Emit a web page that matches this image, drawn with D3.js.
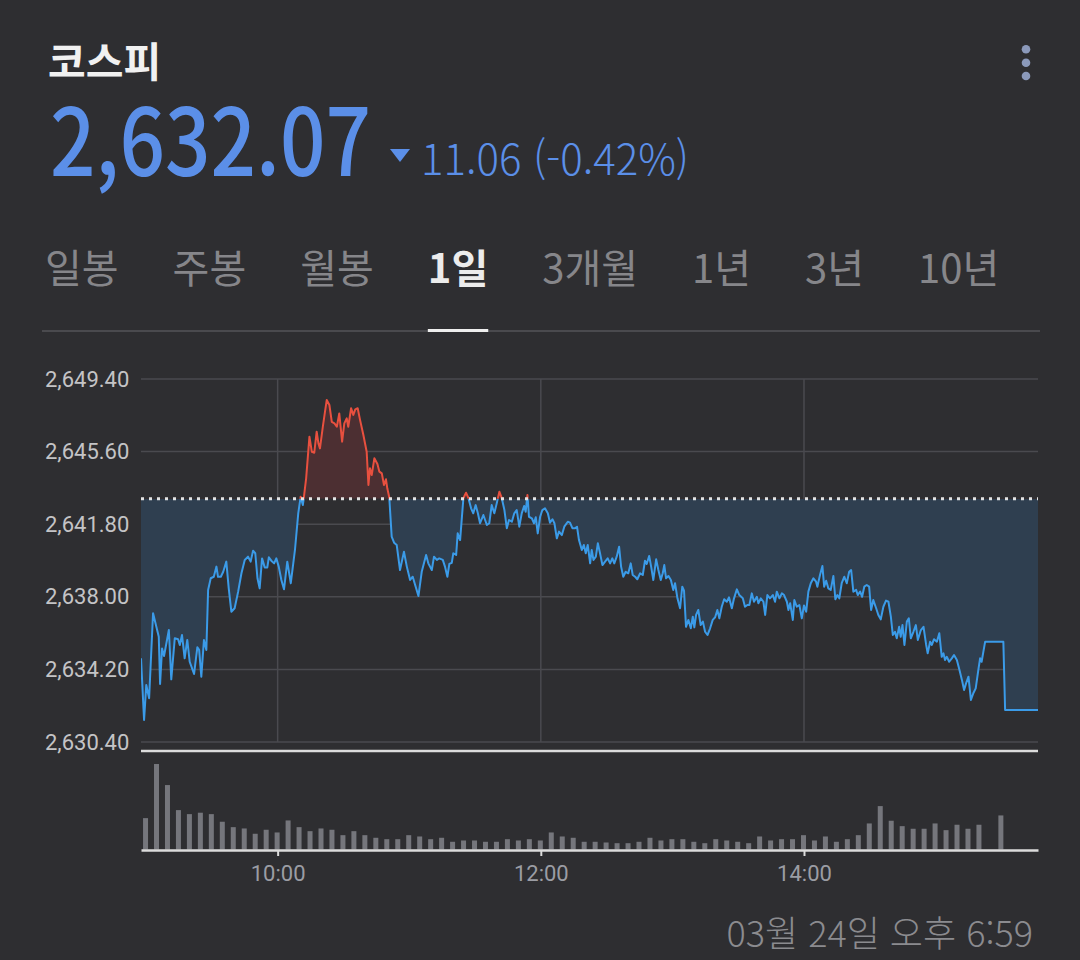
<!DOCTYPE html>
<html lang="ko">
<head>
<meta charset="utf-8">
<title>코스피</title>
<script src="https://cdn.jsdelivr.net/npm/d3@7"></script>
<style>
  html, body { margin: 0; padding: 0; background: #2e2e31; }
  svg { display: block; }
  text { font-family: "Noto Sans CJK KR", "Noto Sans", sans-serif; }
  .axis text { font-family: Roboto, "Noto Sans", sans-serif; }
</style>
</head>
<body>
<svg id="chart" width="1080" height="960"></svg>
<script>
'use strict';

// ##################################################
// #  Data                                          #
// ##################################################

const indexName = '코스피';
const lastValue = 2632.07;
const changeValue = -11.06;
const changePct = -0.42;
const prevClose = 2643.13;
const tabs = ['일봉', '주봉', '월봉', '1일', '3개월', '1년', '3년', '10년'];
const activeTab = '1일';
const updatedAt = '03월 24일 오후 6:59';

const yTicks = [2630.40, 2634.20, 2638.00, 2641.80, 2645.60, 2649.40];
const xTicks = [60, 180, 300];            // minutes after 09:00
const xTickLabels = ['10:00', '12:00', '14:00'];

// [minutes after 09:00, index value]
const intraday = [
    [-2.3, 2634.78], [-0.9, 2631.55], [0.1, 2633.38], [1.4, 2632.69], [3.2, 2637.14],
    [5.8, 2635.91], [6.4, 2633.44], [7.3, 2635.30], [8.2, 2634.90], [10.4, 2636.26],
    [11.5, 2633.68], [13.1, 2635.83], [14.6, 2635.78], [15.4, 2635.48], [16.4, 2636.00],
    [17.6, 2634.78], [18.8, 2635.74], [19.9, 2634.60], [21.9, 2633.96], [23.4, 2635.36],
    [24.2, 2635.22], [25.2, 2633.82], [26.4, 2635.74], [27.5, 2635.22], [28.3, 2638.36],
    [29.5, 2638.97], [30.9, 2639.05], [32.1, 2639.58], [32.8, 2639.05], [34.1, 2639.05],
    [35.2, 2639.31], [36.6, 2639.84], [37.7, 2638.44], [38.9, 2637.22], [40.4, 2637.40],
    [42.0, 2638.27], [43.5, 2639.23], [45.0, 2639.93], [46.5, 2640.10], [47.7, 2639.84],
    [48.8, 2640.41], [49.8, 2640.28], [50.8, 2638.97], [51.8, 2638.44], [52.9, 2640.01],
    [54.1, 2639.54], [55.3, 2639.54], [56.0, 2640.07], [57.1, 2639.89], [58.4, 2639.75],
    [59.4, 2640.01], [60.5, 2639.58], [61.7, 2638.88], [62.9, 2638.39], [64.4, 2639.84],
    [66.0, 2638.71], [67.9, 2640.45], [69.4, 2642.37], [70.5, 2643.24], [71.5, 2642.80],
    [72.0, 2643.24], [73.0, 2644.20], [74.5, 2646.38], [75.6, 2645.59], [76.7, 2645.54],
    [77.8, 2646.64], [78.6, 2646.03], [79.3, 2645.77], [80.6, 2646.90], [81.6, 2647.69],
    [82.4, 2648.30], [83.6, 2648.04], [84.7, 2647.16], [85.9, 2647.08], [87.0, 2646.90],
    [88.1, 2647.60], [89.4, 2646.12], [90.4, 2647.08], [91.5, 2647.34], [92.2, 2646.90],
    [93.5, 2647.87], [94.5, 2647.52], [95.4, 2647.81], [96.5, 2647.87], [97.6, 2647.25],
    [99.1, 2646.47], [100.6, 2645.59], [101.4, 2643.85], [102.1, 2644.73], [102.9, 2644.37],
    [104.1, 2645.25], [105.5, 2644.95], [106.4, 2644.55], [107.5, 2644.46], [108.5, 2643.85],
    [109.4, 2644.15], [110.0, 2643.68], [110.9, 2643.21], [112.0, 2641.15], [113.1, 2640.83],
    [114.3, 2640.71], [115.8, 2639.40], [117.6, 2640.36], [118.9, 2639.58], [120.4, 2638.88],
    [121.6, 2639.05], [122.7, 2638.62], [124.2, 2638.04], [125.7, 2639.31], [127.7, 2640.19],
    [128.7, 2639.75], [130.3, 2639.40], [131.3, 2640.10], [132.6, 2639.93], [133.7, 2640.01],
    [135.3, 2639.93], [136.3, 2639.58], [137.4, 2639.05], [138.3, 2639.72], [139.4, 2639.78],
    [140.1, 2640.28], [141.4, 2640.19], [142.1, 2641.32], [143.2, 2640.97], [144.7, 2643.16],
    [145.9, 2643.45], [147.0, 2643.16], [148.2, 2642.63], [149.2, 2642.37], [150.3, 2642.80],
    [151.3, 2642.37], [152.3, 2641.85], [153.8, 2642.28], [155.4, 2641.76], [156.5, 2641.85],
    [157.6, 2642.80], [158.8, 2642.37], [159.9, 2642.89], [161.1, 2643.50], [162.2, 2643.16],
    [163.4, 2642.54], [164.5, 2641.59], [165.5, 2642.02], [166.8, 2641.93], [167.9, 2642.37],
    [169.0, 2642.54], [170.2, 2641.67], [171.3, 2642.37], [172.4, 2642.75], [173.1, 2642.45],
    [173.9, 2643.33], [174.6, 2642.19], [175.9, 2642.11], [176.9, 2641.85], [177.7, 2642.16],
    [178.6, 2641.32], [179.7, 2642.19], [180.7, 2642.54], [181.9, 2642.63], [183.2, 2642.37],
    [184.2, 2641.88], [185.3, 2642.06], [186.2, 2641.85], [187.3, 2641.06], [188.3, 2641.41],
    [189.6, 2641.23], [190.7, 2641.67], [192.3, 2641.93], [193.3, 2641.88], [194.4, 2641.59],
    [195.6, 2641.59], [196.5, 2641.67], [197.4, 2640.97], [198.7, 2640.45], [199.6, 2640.71],
    [200.5, 2640.28], [201.4, 2640.71], [202.5, 2639.75], [203.2, 2640.45], [204.0, 2639.93],
    [205.1, 2640.10], [206.0, 2640.80], [207.0, 2640.28], [208.1, 2639.66], [209.3, 2639.84],
    [210.5, 2640.01], [211.6, 2639.75], [212.6, 2640.01], [213.5, 2639.75], [214.6, 2640.10],
    [215.7, 2640.62], [216.6, 2639.58], [217.6, 2639.05], [218.7, 2639.31], [219.9, 2639.23],
    [221.0, 2639.75], [221.9, 2639.14], [223.0, 2639.05], [224.0, 2638.92], [225.3, 2639.23],
    [226.5, 2639.14], [227.5, 2639.89], [228.3, 2639.72], [229.4, 2640.14], [230.3, 2639.58],
    [231.3, 2638.88], [232.6, 2639.96], [233.6, 2639.40], [234.7, 2638.88], [235.6, 2639.23],
    [236.3, 2639.66], [237.1, 2638.97], [238.2, 2639.09], [239.3, 2638.88], [240.4, 2638.36],
    [241.2, 2638.71], [242.3, 2637.92], [243.5, 2637.40], [244.5, 2638.53], [245.3, 2638.32],
    [246.2, 2636.43], [247.3, 2636.79], [248.4, 2636.35], [249.3, 2636.96], [250.0, 2636.40],
    [250.8, 2637.05], [251.8, 2637.31], [252.9, 2636.52], [253.9, 2636.70], [254.9, 2636.17],
    [256.0, 2636.00], [257.2, 2636.35], [258.4, 2636.79], [259.5, 2636.93], [260.5, 2637.31],
    [261.4, 2636.87], [262.5, 2637.48], [263.6, 2637.87], [264.8, 2637.74], [265.8, 2637.97],
    [267.1, 2637.40], [268.1, 2637.92], [269.4, 2638.39], [270.5, 2638.09], [272.1, 2637.92],
    [273.1, 2637.48], [274.2, 2637.57], [275.1, 2637.57], [276.2, 2638.18], [277.2, 2637.74],
    [278.5, 2638.00], [279.2, 2637.66], [280.3, 2637.92], [281.5, 2637.74], [282.3, 2637.05],
    [283.3, 2638.09], [284.5, 2637.92], [285.8, 2638.09], [286.8, 2637.74], [287.6, 2638.27],
    [288.8, 2637.92], [289.9, 2638.18], [290.9, 2638.09], [292.2, 2637.74], [292.9, 2637.31],
    [293.7, 2637.66], [294.9, 2636.79], [295.6, 2637.83], [296.7, 2637.48], [297.9, 2637.57],
    [299.0, 2636.87], [300.0, 2637.55], [301.0, 2637.22], [302.0, 2638.27], [303.1, 2638.71],
    [304.3, 2638.97], [305.5, 2638.79], [306.1, 2638.53], [307.3, 2639.14], [308.4, 2639.61],
    [309.2, 2638.53], [310.1, 2638.84], [311.1, 2638.44], [312.2, 2638.36], [313.4, 2639.09],
    [314.3, 2637.87], [315.2, 2638.09], [316.1, 2637.92], [317.2, 2638.71], [318.4, 2639.05],
    [319.5, 2638.71], [320.6, 2639.31], [321.5, 2639.40], [322.5, 2638.27], [323.8, 2638.36],
    [324.5, 2638.09], [325.6, 2638.27], [326.5, 2638.00], [327.5, 2638.53], [328.6, 2638.62],
    [329.7, 2638.53], [330.6, 2637.31], [331.6, 2637.83], [332.9, 2637.40], [333.9, 2637.05],
    [335.0, 2636.82], [336.2, 2637.48], [337.4, 2637.80], [338.5, 2637.74], [339.6, 2636.96],
    [340.5, 2636.00], [341.5, 2636.17], [342.3, 2635.83], [343.4, 2636.43], [344.1, 2635.91],
    [344.9, 2636.52], [345.8, 2635.48], [346.9, 2636.70], [347.8, 2636.87], [348.7, 2635.83],
    [349.9, 2636.17], [351.0, 2636.52], [351.9, 2635.74], [353.3, 2636.26], [354.5, 2636.43],
    [355.7, 2635.48], [356.4, 2635.04], [357.5, 2635.65], [358.3, 2635.48], [359.3, 2635.78],
    [360.6, 2635.65], [361.7, 2636.09], [362.8, 2634.86], [363.6, 2635.04], [364.3, 2634.69],
    [365.1, 2634.86], [366.2, 2634.60], [367.4, 2634.78], [368.4, 2634.95], [369.7, 2634.69],
    [370.9, 2634.17], [372.0, 2633.65], [373.0, 2633.12], [373.9, 2633.47], [375.0, 2633.82],
    [376.1, 2632.60], [377.2, 2632.95], [378.3, 2633.21], [379.5, 2634.17], [380.3, 2634.78],
    [381.0, 2634.60], [381.8, 2635.13], [382.6, 2635.65], [390.9, 2635.65], [391.7, 2632.07],
    [406.7, 2632.07]
];

// 5-minute volume buckets (relative units)
const volumeTimes = [
    '09:00', '09:05', '09:10', '09:15', '09:20', '09:25', '09:30', '09:35', '09:40', '09:45', '09:50', '09:55',
    '10:00', '10:05', '10:10', '10:15', '10:20', '10:25', '10:30', '10:35', '10:40', '10:45', '10:50', '10:55',
    '11:00', '11:05', '11:10', '11:15', '11:20', '11:25', '11:30', '11:35', '11:40', '11:45', '11:50', '11:55',
    '12:00', '12:05', '12:10', '12:15', '12:20', '12:25', '12:30', '12:35', '12:40', '12:45', '12:50', '12:55',
    '13:00', '13:05', '13:10', '13:15', '13:20', '13:25', '13:30', '13:35', '13:40', '13:45', '13:50', '13:55',
    '14:00', '14:05', '14:10', '14:15', '14:20', '14:25', '14:30', '14:35', '14:40', '14:45', '14:50', '14:55',
    '15:00', '15:05', '15:10', '15:15', '15:20', '15:30'
];
const volumeValues = [
    31.3, 85.3, 64.3, 39.3, 35.3, 36.7, 35.3, 27.7, 22.3, 21.0, 15.7, 19.7,
    17.0, 29.0, 22.3, 18.3, 21.0, 19.7, 14.3, 18.3, 14.3, 11.7, 10.3, 10.3,
    14.3, 13.0, 10.3, 11.7, 7.7, 9.0, 9.0, 7.7, 7.7, 10.3, 9.0, 10.3,
    9.0, 17.0, 13.0, 11.7, 7.7, 7.7, 7.0, 6.3, 6.3, 7.7, 11.7, 9.0,
    10.3, 10.3, 7.7, 6.3, 10.3, 9.0, 7.7, 6.3, 13.0, 9.0, 10.3, 10.3,
    14.3, 9.0, 13.0, 7.7, 10.3, 14.3, 26.0, 43.3, 28.7, 23.3, 20.7, 20.7,
    26.0, 19.3, 24.7, 20.7, 24.7, 34.0
];

// ##################################################
// #  Layout                                        #
// ##################################################

const svg = d3.select('#chart');
const plot = { left: 141, right: 1038, top: 379, bottom: 742 };
const vol = { top: 751, bottom: 850 };

const x = d3.scaleLinear([-2.3, 406.7], [plot.left, plot.right]);
const y = d3.scaleLinear([2630.4, 2649.4], [plot.bottom, plot.top]);
const yVol = d3.scaleLinear([0, 90], [849.5, 759.3]);

const toMinutes = s => (+s.slice(0, 2) - 9) * 60 + (+s.slice(3));

// ---------- header ----------
svg.append('text')
    .attr('x', 48).attr('y', 77)
    .attr('font-size', 41).attr('font-weight', 700)
    .attr('fill', '#f1f1f1')
    .text(indexName);

svg.append('text')
    .attr('x', 50).attr('y', 176)
    .attr('font-size', 94).attr('font-weight', 500)
    .attr('fill', '#5b8fe8')
    .attr('textLength', 321).attr('lengthAdjust', 'spacingAndGlyphs')
    .text(d3.format(',.2f')(lastValue));

svg.append('path')
    .attr('d', d3.line()([[390, 149], [410, 149], [400, 162]]) + 'Z')
    .attr('fill', '#5b8fe8');

svg.append('text')
    .attr('x', 421).attr('y', 175)
    .attr('font-size', 43).attr('font-weight', 300)
    .attr('fill', '#5b8fe8')
    .attr('textLength', 268).attr('lengthAdjust', 'spacingAndGlyphs')
    .text(`${Math.abs(changeValue).toFixed(2)} (${changePct.toFixed(2)}%)`);

svg.append('g')
    .selectAll('circle')
    .data([49.3, 62.7, 76])
    .join('circle')
    .attr('cx', 1026).attr('cy', d => d).attr('r', 4.3)
    .attr('fill', '#8b99ba');

// ---------- tabs ----------
svg.append('line')
    .attr('x1', 42).attr('x2', 1040).attr('y1', 331).attr('y2', 331)
    .attr('stroke', '#4a4a4e').attr('stroke-width', 2);

let tabX = 45;
const tabGap = 54;
for (const tab of tabs) {
    const active = tab === activeTab;
    const t = svg.append('text')
        .attr('x', tabX).attr('y', 283)
        .attr('font-size', 40)
        .attr('font-weight', active ? 700 : 400)
        .attr('fill', active ? '#ececec' : '#86868a')
        .text(tab);
    const w = t.node().getComputedTextLength();
    if (active) {
        svg.append('rect')
            .attr('x', tabX).attr('y', 329).attr('width', w).attr('height', 3)
            .attr('fill', '#eeeeee');
    }
    tabX += w + tabGap;
}

// ---------- grid ----------
const grid = svg.append('g');
grid.selectAll('.hgrid')
    .data(yTicks)
    .join('line')
    .attr('class', 'hgrid')
    .attr('x1', plot.left).attr('x2', plot.right)
    .attr('y1', d => y(d)).attr('y2', d => y(d))
    .attr('stroke', '#4a4a4f').attr('stroke-width', 1.5);

grid.selectAll('.vgrid')
    .data(xTicks)
    .join('line')
    .attr('class', 'vgrid')
    .attr('x1', d => x(d)).attr('x2', d => x(d))
    .attr('y1', plot.top).attr('y2', plot.bottom)
    .attr('stroke', '#4a4a4f').attr('stroke-width', 1.5);

const yAxis = svg.append('g')
    .attr('class', 'axis')
    .attr('transform', 'translate(45,0)')
    .call(d3.axisRight(y).tickValues(yTicks).tickSize(0).tickPadding(0).tickFormat(d3.format(',.2f')));
yAxis.select('.domain').remove();
yAxis.selectAll('text')
    .attr('font-size', 22)
    .attr('fill', '#c4c4c6');

// ---------- price area + line ----------
const defs = svg.append('defs');
defs.append('clipPath').attr('id', 'above')
    .append('rect')
    .attr('x', plot.left).attr('y', 0)
    .attr('width', plot.right - plot.left).attr('height', y(prevClose));
defs.append('clipPath').attr('id', 'below')
    .append('rect')
    .attr('x', plot.left).attr('y', y(prevClose))
    .attr('width', plot.right - plot.left).attr('height', plot.bottom - y(prevClose));

const area = d3.area()
    .x(d => x(d[0]))
    .y0(y(prevClose))
    .y1(d => y(d[1]));
const line = d3.line()
    .x(d => x(d[0]))
    .y(d => y(d[1]));

const sides = [
    { clip: 'below', fill: '#2f3f50', stroke: '#3b9be8' },
    { clip: 'above', fill: '#4c2f32', stroke: '#e8503f' }
];
for (const s of sides) {
    const g = svg.append('g').attr('clip-path', `url(#${s.clip})`);
    g.append('path')
        .datum(intraday)
        .attr('d', area)
        .attr('fill', s.fill);
    g.append('path')
        .datum(intraday)
        .attr('d', line)
        .attr('fill', 'none')
        .attr('stroke', s.stroke)
        .attr('stroke-width', 2)
        .attr('stroke-linejoin', 'round');
}

svg.append('line')
    .attr('x1', plot.left).attr('x2', plot.right)
    .attr('y1', y(prevClose)).attr('y2', y(prevClose))
    .attr('stroke', '#e4e4e4').attr('stroke-width', 3)
    .attr('stroke-dasharray', '3 5');

// ---------- volume ----------
svg.append('line')
    .attr('x1', plot.left).attr('x2', plot.right)
    .attr('y1', vol.top).attr('y2', vol.top)
    .attr('stroke', '#dcdcdc').attr('stroke-width', 2.5);

const volume = volumeTimes.map((t, i) => ({ t: toMinutes(t), v: volumeValues[i] }));
svg.append('g')
    .selectAll('rect')
    .data(volume)
    .join('rect')
    .attr('x', d => x(d.t) - 3)
    .attr('width', 5)
    .attr('y', d => yVol(d.v))
    .attr('height', d => yVol(0) - yVol(d.v))
    .attr('fill', '#75767c');

const xAxis = svg.append('g')
    .attr('class', 'axis')
    .attr('transform', `translate(0,${vol.bottom})`)
    .call(d3.axisBottom(x).tickValues(xTicks).tickFormat((d, i) => xTickLabels[i])
        .tickSize(6).tickSizeOuter(0).tickPadding(9));
xAxis.select('.domain')
    .attr('stroke', '#dcdcdc').attr('stroke-width', 2.5);
xAxis.selectAll('.tick line')
    .attr('stroke', '#dcdcdc').attr('stroke-width', 2);
xAxis.selectAll('text')
    .attr('font-size', 22)
    .attr('fill', '#9b9da4');

// ---------- footer ----------
svg.append('text')
    .attr('x', 1033).attr('y', 947)
    .attr('text-anchor', 'end')
    .attr('font-size', 36).attr('font-weight', 300)
    .attr('fill', '#8b8b8f')
    .text(updatedAt);
</script>
</body>
</html>
